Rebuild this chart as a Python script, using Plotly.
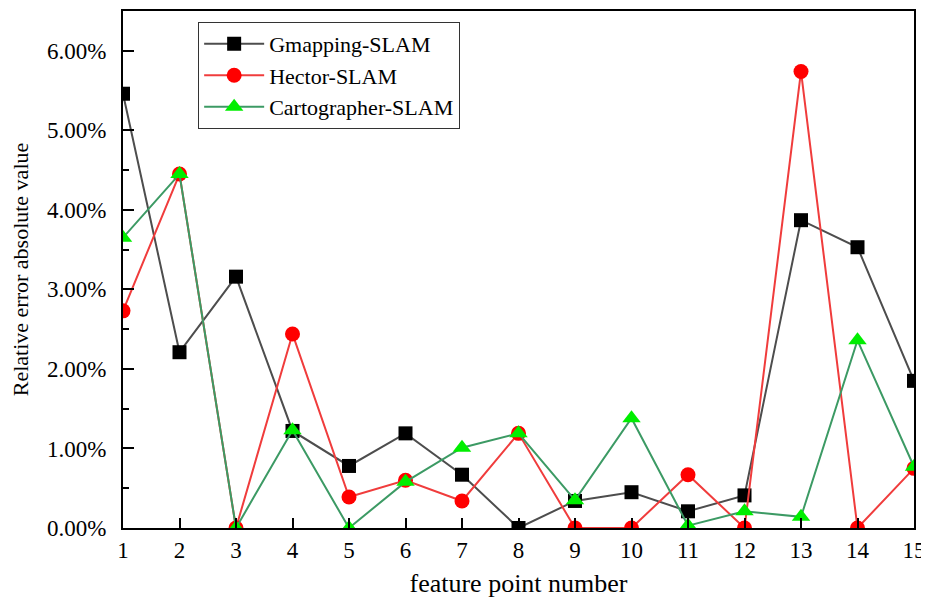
import plotly.graph_objects as go

feature_points = list(range(1, 16))
gmapping = [5.46, 2.21, 3.16, 1.22, 0.78, 1.19, 0.67, 0.00, 0.34, 0.45, 0.21, 0.41, 3.87, 3.53, 1.85]
hector = [2.73, 4.45, 0.00, 2.44, 0.39, 0.60, 0.34, 1.19, 0.00, 0.00, 0.67, 0.00, 5.74, 0.00, 0.75]
cartographer = [3.65, 4.45, 0.00, 1.23, 0.00, 0.58, 1.01, 1.19, 0.35, 1.38, 0.03, 0.21, 0.14, 2.36, 0.77]
y_ticks = [0, 1, 2, 3, 4, 5, 6]
y_tick_labels = ["%.2f%%" % v for v in y_ticks]

FONT = "Liberation Serif"

fig = go.Figure()
fig.add_trace(go.Scatter(
    x=feature_points, y=gmapping, name="Gmapping-SLAM", mode="lines+markers",
    line=dict(color="#4d4d4d", width=2),
    marker=dict(symbol="square", size=14, color="black")))
fig.add_trace(go.Scatter(
    x=feature_points, y=hector, name="Hector-SLAM", mode="lines+markers",
    line=dict(color="#f03c3c", width=2),
    marker=dict(symbol="circle", size=15, color="#ff0000")))
fig.add_trace(go.Scatter(
    x=feature_points, y=cartographer, name="Cartographer-SLAM", mode="lines+markers",
    line=dict(color="#3c9a64", width=2),
    marker=dict(symbol="triangle-up", size=16, color="#00ee00")))

# page body has an 8px margin, so the figure is sized/positioned to compensate
fig.update_layout(
    width=921, height=591,
    margin=dict(l=115, r=15, t=3, b=71, autoexpand=False),
    paper_bgcolor="white", plot_bgcolor="white",
    font=dict(family=FONT, size=23, color="black"),
    showlegend=True,
    legend=dict(
        x=0.095, y=0.979, xanchor="left", yanchor="top",
        bgcolor="white", bordercolor="#333333", borderwidth=1,
        font=dict(family=FONT, size=22, color="black"),
        tracegroupgap=0, itemwidth=60,
    ),
    xaxis=dict(
        range=[1, 15], tickvals=feature_points, ticks="inside", ticklen=10, tickwidth=2,
        tickcolor="black", showline=True, linecolor="black", linewidth=2, mirror=True,
        showgrid=False, zeroline=False, automargin=False,
        tickfont=dict(family=FONT, size=23),
        title=dict(text="feature point number", font=dict(family=FONT, size=26), standoff=12),
    ),
    yaxis=dict(
        range=[0, 6.5], tickvals=y_ticks, ticktext=y_tick_labels,
        ticks="inside", ticklen=11, tickwidth=2, tickcolor="black", ticklabelstandoff=10,
        minor=dict(dtick=0.5, ticks="inside", ticklen=6, tickwidth=2, tickcolor="black", showgrid=False),
        showline=True, linecolor="black", linewidth=2, mirror=True,
        showgrid=False, zeroline=False, automargin=False,
        tickfont=dict(family=FONT, size=23),
        title=dict(text="Relative error absolute value", font=dict(family=FONT, size=22), standoff=14),
    ),
)

fig.write_html("out.html")
